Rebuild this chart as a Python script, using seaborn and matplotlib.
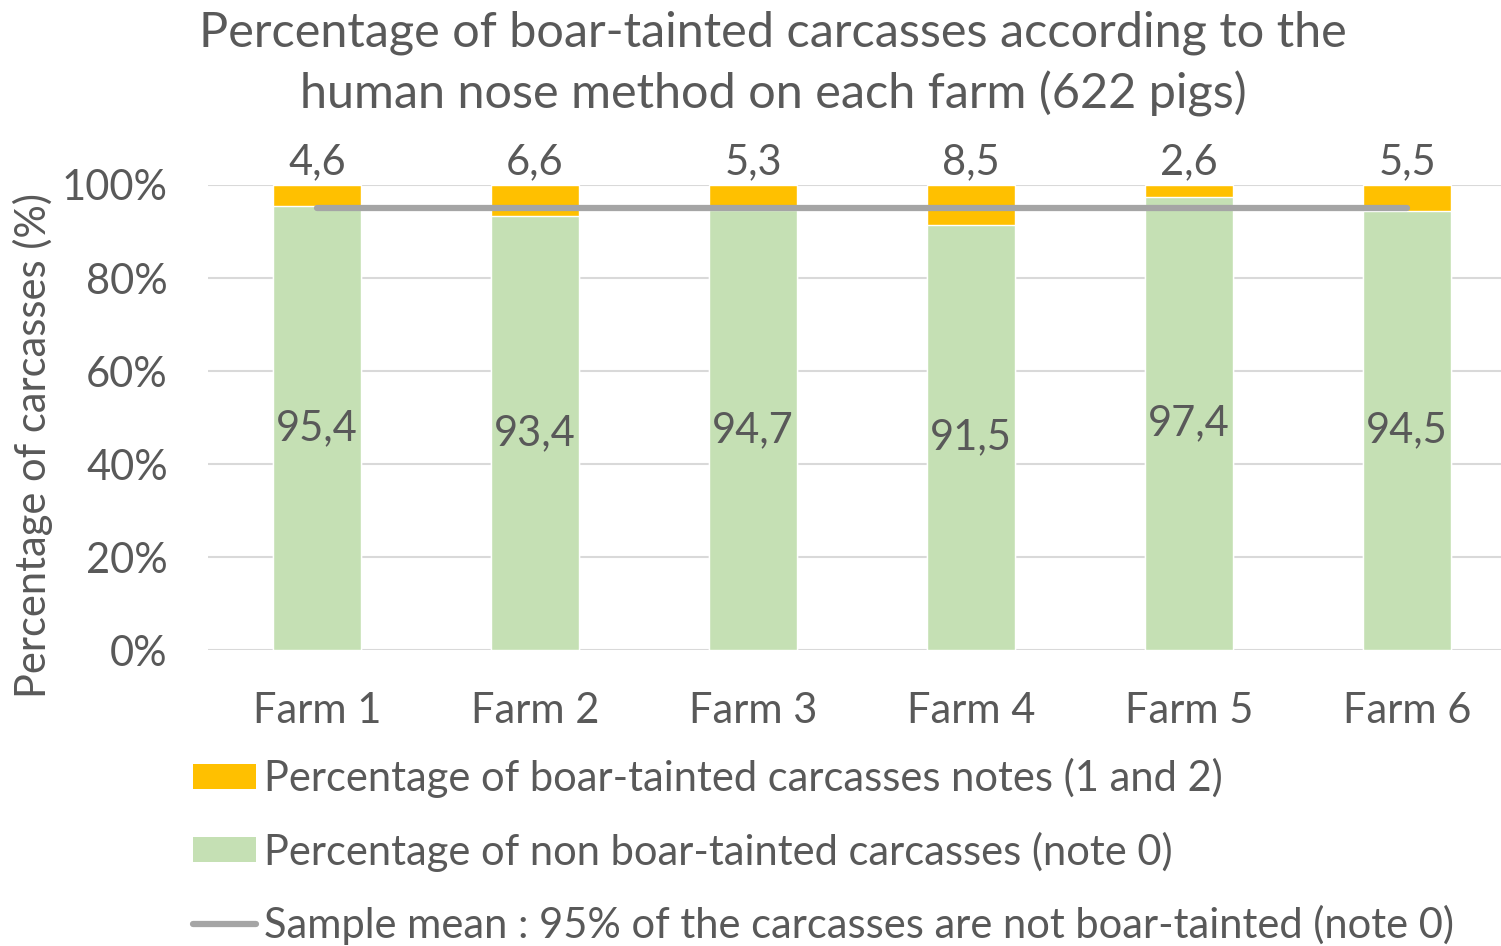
import matplotlib
matplotlib.use("Agg")
import matplotlib.pyplot as plt
import seaborn as sns
import pandas as pd
from matplotlib.patches import Patch
from matplotlib.lines import Line2D

farms = ["Farm 1", "Farm 2", "Farm 3", "Farm 4", "Farm 5", "Farm 6"]
tainted = [4.6, 6.6, 5.3, 8.5, 2.6, 5.5]
non_tainted = [95.4, 93.4, 94.7, 91.5, 97.4, 94.5]
sample_mean = 95

title = "Percentage of boar-tainted carcasses according to the\nhuman nose method on each farm (622 pigs)"
ylabel = "Percentage of carcasses (%)"
legend_labels = [
    "Percentage of boar-tainted carcasses notes (1 and 2)",
    "Percentage of non boar-tainted carcasses (note 0)",
    "Sample mean : 95% of the carcasses are not boar-tainted (note 0)",
]

ORANGE = "#FFC000"
GREEN = "#C5E0B4"
GREY_LINE = "#A5A5A5"
TEXT = "#595959"

sns.set_theme(style="white")
plt.rcParams["font.family"] = ["Lato", "DejaVu Sans"]
FS = 30

df = pd.DataFrame({"farm": farms, "tainted": tainted, "non_tainted": non_tainted})
df["total"] = df["tainted"] + df["non_tainted"]

fig = plt.figure(figsize=(15.01, 9.46), dpi=100)
ax = fig.add_axes([208 / 1501, 1 - 650 / 946, 1308 / 1501, 465 / 946])

# stacked bars: full height in orange, non-tainted part in green over it
sns.barplot(data=df, x="farm", y="total", color=ORANGE, width=0.4,
            saturation=1, ax=ax, zorder=2)
sns.barplot(data=df, x="farm", y="non_tainted", color=GREEN, width=0.4,
            saturation=1, ax=ax, zorder=3)

# sample mean line across the farms
ax.plot([0, len(farms) - 1], [sample_mean, sample_mean], color=GREY_LINE,
        lw=4.5, solid_capstyle="round", zorder=4)

for i, (t, n) in enumerate(zip(tainted, non_tainted)):
    ax.text(i, 100 + 5.0, f"{t:.1f}".replace(".", ","), ha="center", va="center",
            fontsize=FS, color=TEXT, clip_on=False)
    ax.text(i, n / 2, f"{n:.1f}".replace(".", ","), ha="center", va="center",
            fontsize=FS, color=TEXT, zorder=5)

ax.set_ylim(0, 100)
ax.set_xlim(-0.5, len(farms) - 0.5)
ax.set_yticks(range(0, 101, 20))
ax.set_yticklabels([f"{v}%" for v in range(0, 101, 20)])
ax.yaxis.grid(True, color="#D9D9D9", lw=1.5, zorder=0)
ax.set_axisbelow(True)
for s in ax.spines.values():
    s.set_visible(False)
ax.tick_params(axis="both", length=0, labelsize=FS, labelcolor=TEXT)
ax.tick_params(axis="y", pad=29)
ax.tick_params(axis="x", pad=30)
ax.set_xlabel("")
ax.set_ylabel("")

fig.text(33 / 1501, 1 - 445 / 946, ylabel, rotation=90, ha="center", va="center",
         fontsize=FS, color=TEXT)
fig.text(773 / 1501, 1 - 64 / 946, title, ha="center", va="center",
         fontsize=35, color=TEXT, linespacing=1.42)

handles = [
    Patch(facecolor=ORANGE, edgecolor="none"),
    Patch(facecolor=GREEN, edgecolor="none"),
    Line2D([0], [0], color=GREY_LINE, lw=4.5),
]
leg = fig.legend(handles, legend_labels, loc="upper left",
                 bbox_to_anchor=(193 / 1501, 1 - 758 / 946), frameon=False,
                 fontsize=FS, labelcolor=TEXT, handlelength=1.5,
                 handleheight=0.55, handletextpad=0.2, labelspacing=0.8,
                 borderaxespad=0, borderpad=0)

fig.savefig("out.png", dpi=100)
